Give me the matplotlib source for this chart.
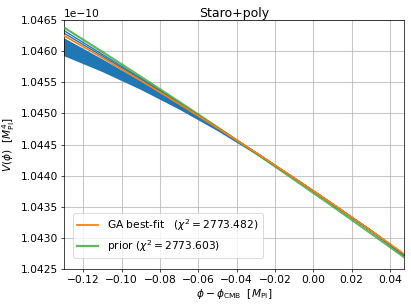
import matplotlib
matplotlib.use("Agg")
import matplotlib.pyplot as plt
import numpy as np

# x positions (phi - phi_CMB) in M_Pl
phi = [-0.13, -0.11, -0.09, -0.07, -0.05, -0.03, -0.01, 0.01, 0.03, 0.047]

# potentials in units of 1e-10 M_Pl^4
V_ga = [1.046250, 1.045895, 1.045529, 1.045153, 1.044767, 1.044371, 1.043963, 1.043547, 1.043119, 1.042748]
V_prior = [1.046380, 1.045989, 1.045591, 1.045188, 1.044778, 1.044362, 1.043937, 1.043509, 1.043073, 1.042698]
band_low = [1.045940, 1.045685, 1.045399, 1.045083, 1.044737, 1.044361, 1.043963, 1.043547, 1.043119, 1.042728]
band_high = [1.046200, 1.045860, 1.045509, 1.045143, 1.044767, 1.044371, 1.043963, 1.043547, 1.043119, 1.042738]
sample_a = [1.046330, 1.045949, 1.045563, 1.045171, 1.044775, 1.044373, 1.043963, 1.043547, 1.043119, 1.042738]
sample_b = [1.046290, 1.045922, 1.045546, 1.045162, 1.044771, 1.044372, 1.043963, 1.043547, 1.043119, 1.042738]

chi2_ga = "2773.482"
chi2_prior = "2773.603"
SCALE = 1e-10

DPI = 64
fig = plt.figure(figsize=(411 / DPI, 304 / DPI), dpi=DPI)
ax = fig.add_axes([0.1557, 0.115, 0.8273, 0.819])

x = np.array(phi)
blue = "#1f77b4"
ax.fill_between(x, np.array(band_low) * SCALE, np.array(band_high) * SCALE,
                color=blue, edgecolor=blue, linewidth=1.8, zorder=2)
ax.plot(x, np.array(sample_a) * SCALE, color=blue, lw=1.5, zorder=2)
ax.plot(x, np.array(sample_b) * SCALE, color=blue, lw=1.5, zorder=2)

ax.plot(x, np.array(V_ga) * SCALE, color="#ff7f0e", lw=2.0, zorder=4,
        label=r"GA best-fit   $(\chi^2 = %s)$" % chi2_ga)
ax.plot(x, np.array(V_prior) * SCALE, color="#2ca02c", lw=2.5, alpha=0.75, zorder=3,
        label=r"prior $(\chi^2 = %s)$" % chi2_prior)

ax.set_xlim(-0.130, 0.0473)
ax.set_ylim(1.0425e-10, 1.0465e-10)
ax.set_xticks([-0.12, -0.10, -0.08, -0.06, -0.04, -0.02, 0.00, 0.02, 0.04])
ax.tick_params(labelsize=12)
ax.yaxis.get_offset_text().set_fontsize(12)
ax.grid(True, color="#b0b0b0", lw=1.2, alpha=0.7)
ax.set_axisbelow(True)

ax.set_title("Staro+poly", fontsize=14, pad=4)
ax.set_xlabel(r"$\phi - \phi_{\rm CMB}\ \ [M_{\rm Pl}]$", fontsize=12, labelpad=2)
ax.set_ylabel(r"$V(\phi)\ \ [M_{\rm Pl}^4]$", fontsize=12, labelpad=4)

ax.legend(loc="lower left", bbox_to_anchor=(0.026, 0.044), borderaxespad=0,
          fontsize=12, framealpha=0.8)

fig.savefig("out.png", dpi=DPI)
